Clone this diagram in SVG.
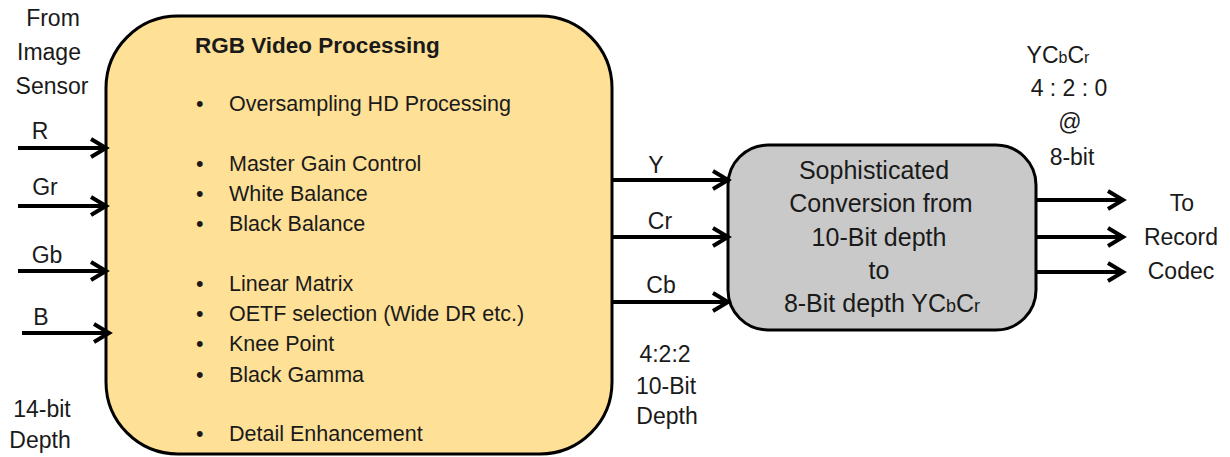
<svg xmlns="http://www.w3.org/2000/svg" width="1230" height="457" viewBox="0 0 1230 457">
<style>
text{font-family:"Liberation Sans",Arial,sans-serif;font-size:21.5px;fill:#1a1a1a}
.c{text-anchor:middle}
.b{font-weight:bold;font-size:22.5px}
.l{font-size:23px}
.g{font-size:25px}
.ln{stroke:#000;stroke-width:4;fill:none}
.sm{font-size:16px}
.sg{font-size:18px}
</style>
<defs>
<marker id="ah" markerUnits="userSpaceOnUse" markerWidth="24" markerHeight="24" viewBox="0 0 24 24" refX="20" refY="12" orient="auto">
<path d="M5,3 L20,12 L5,21" fill="none" stroke="#000" stroke-width="4"/>
</marker>
</defs>
<g id="rgb-processing">
<rect x="106" y="16" width="506" height="438" rx="72" ry="72" fill="#FEE096" stroke="#000" stroke-width="3"/>
<text x="195" y="53" class="b">RGB Video Processing</text>
<g>
<text x="196" y="111">•</text><text x="229" y="111">Oversampling HD Processing</text>
<text x="196" y="171">•</text><text x="229" y="171">Master Gain Control</text>
<text x="196" y="201">•</text><text x="229" y="201">White Balance</text>
<text x="196" y="231">•</text><text x="229" y="231">Black Balance</text>
<text x="196" y="291">•</text><text x="229" y="291">Linear Matrix</text>
<text x="196" y="321">•</text><text x="229" y="321">OETF selection (Wide DR etc.)</text>
<text x="196" y="351">•</text><text x="229" y="351">Knee Point</text>
<text x="196" y="382">•</text><text x="229" y="382">Black Gamma</text>
<text x="196" y="441">•</text><text x="229" y="441">Detail Enhancement</text>
</g>
</g>
<g id="conversion">
<rect x="728" y="145" width="308" height="185" rx="40" ry="40" fill="#C9C9C9" stroke="#000" stroke-width="3"/>
<text x="874" y="179" class="c g">Sophisticated</text>
<text x="881" y="212" class="c g">Conversion from</text>
<text x="879" y="246" class="c g">10-Bit depth</text>
<text x="879" y="279" class="c g">to</text>
<text x="882" y="312" class="c g">8-Bit depth YC<tspan class="sg">b</tspan>C<tspan class="sg">r</tspan></text>
</g>
<g id="labels">
<text x="53" y="26" class="c l">From</text>
<text x="49" y="60" class="c l">Image</text>
<text x="52" y="94" class="c l">Sensor</text>
<text x="40" y="139" class="c l">R</text>
<text x="45" y="195" class="c l">Gr</text>
<text x="47" y="263" class="c l">Gb</text>
<text x="41" y="325" class="c l">B</text>
<text x="42" y="417" class="c l">14-bit</text>
<text x="40" y="448" class="c l">Depth</text>
<text x="656" y="173" class="c l">Y</text>
<text x="660" y="229" class="c l">Cr</text>
<text x="661" y="293" class="c l">Cb</text>
<text x="665" y="362" class="c l">4:2:2</text>
<text x="666" y="394" class="c l">10-Bit</text>
<text x="667" y="424" class="c l">Depth</text>
<text x="1058" y="63" class="c l">YC<tspan class="sm">b</tspan>C<tspan class="sm">r</tspan></text>
<text x="1069" y="96" class="c l">4 : 2 : 0</text>
<text x="1070" y="130" class="c l">@</text>
<text x="1072" y="165" class="c l">8-bit</text>
<text x="1182" y="211" class="c l">To</text>
<text x="1181" y="245" class="c l">Record</text>
<text x="1181" y="279" class="c l">Codec</text>
</g>
<g id="connectors">
<line class="ln" x1="18" y1="148" x2="106" y2="148" marker-end="url(#ah)"/>
<line class="ln" x1="18" y1="206" x2="106" y2="206" marker-end="url(#ah)"/>
<line class="ln" x1="18" y1="271" x2="106" y2="271" marker-end="url(#ah)"/>
<line class="ln" x1="22" y1="333" x2="109" y2="333" marker-end="url(#ah)"/>
<line class="ln" x1="612" y1="180" x2="728" y2="180" marker-end="url(#ah)"/>
<line class="ln" x1="612" y1="237" x2="728" y2="237" marker-end="url(#ah)"/>
<line class="ln" x1="612" y1="302" x2="728" y2="302" marker-end="url(#ah)"/>
<line class="ln" x1="1036" y1="200" x2="1123" y2="200" marker-end="url(#ah)"/>
<line class="ln" x1="1036" y1="237" x2="1123" y2="237" marker-end="url(#ah)"/>
<line class="ln" x1="1036" y1="272" x2="1123" y2="272" marker-end="url(#ah)"/>
</g>
</svg>
